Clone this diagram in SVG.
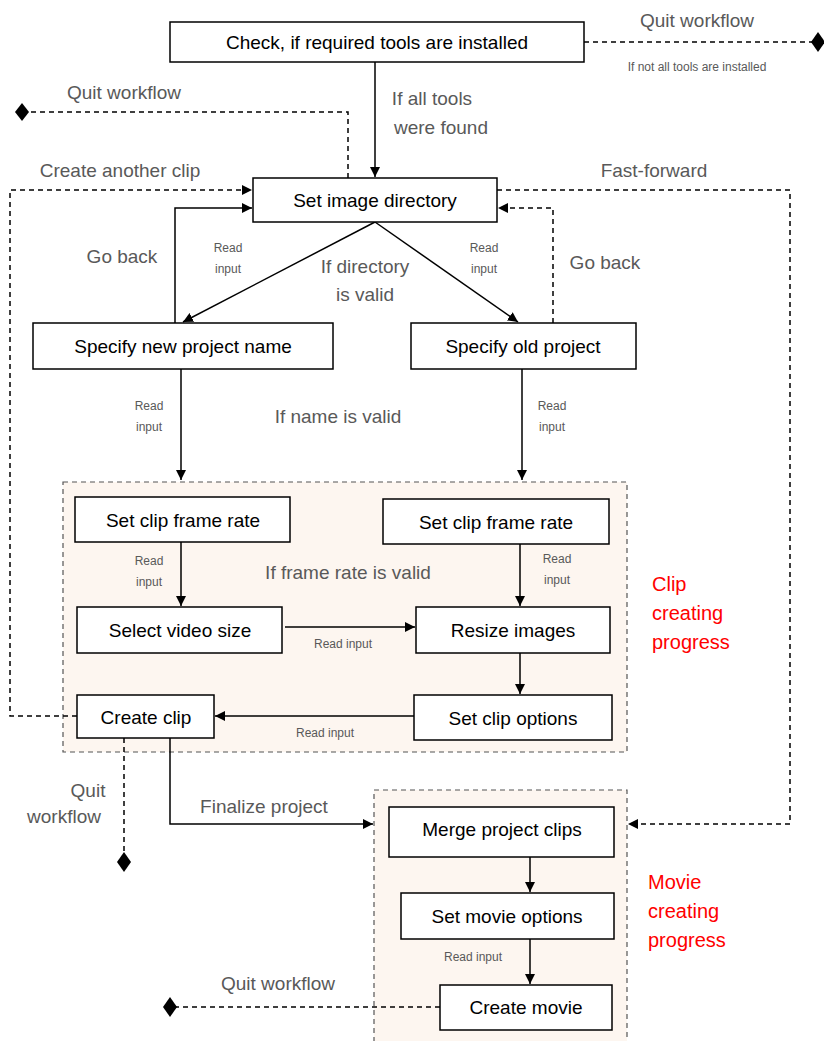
<svg xmlns="http://www.w3.org/2000/svg" width="824" height="1041" viewBox="0 0 824 1041">
<defs>
<marker id="arr" viewBox="0 0 10 10" refX="10" refY="5" markerWidth="10" markerHeight="10" markerUnits="userSpaceOnUse" orient="auto"><path d="M0,0 L10,5 L0,10 z" fill="#000"/></marker>
<style>
.box{fill:#fff;stroke:#000;stroke-width:1.5}
.grp{fill:#fdf6f0;stroke:#555;stroke-width:1.2;stroke-dasharray:5,4}
.t{font-family:"Liberation Sans",Arial,sans-serif;font-size:19px;fill:#000;text-anchor:middle;dominant-baseline:central}
.l{font-family:"Liberation Sans",Arial,sans-serif;font-size:19px;fill:#595959;text-anchor:middle;dominant-baseline:central}
.s{font-family:"Liberation Sans",Arial,sans-serif;font-size:12px;fill:#595959;text-anchor:middle;dominant-baseline:central}
.r{font-family:"Liberation Sans",Arial,sans-serif;font-size:20px;fill:#ff0000;dominant-baseline:central}
.c{fill:none;stroke:#000;stroke-width:1.5}
.d{fill:none;stroke:#000;stroke-width:1.5;stroke-dasharray:5,4}
.dm{fill:#000}
</style>
</defs>
<rect width="824" height="1041" fill="#fff"/>
<g id="clip-group"><rect class="grp" x="63" y="482" width="564" height="270"/></g>
<g id="movie-group"><rect class="grp" x="374" y="790" width="253" height="260"/></g>
<g id="connectors">
<path class="d" d="M584,42 H812"/>
<path class="dm" d="M818,32 L825,42 L818,52 L811,42 z"/>
<path class="c" d="M375,62 V177" marker-end="url(#arr)"/>
<path class="d" d="M348,178 V112 H28"/>
<path class="dm" d="M22,103 L29,112 L22,121 L15,112 z"/>
<path class="d" d="M77,716 H10 V190 H252" marker-end="url(#arr)"/>
<path class="c" d="M175,323 V208 H252" marker-end="url(#arr)"/>
<path class="c" d="M375,222 L183,322" marker-end="url(#arr)"/>
<path class="c" d="M375,222 L518,322" marker-end="url(#arr)"/>
<path class="d" d="M553,323 V208 H498" marker-end="url(#arr)"/>
<path class="d" d="M497,190 H790 V824 H628" marker-end="url(#arr)"/>
<path class="c" d="M181,369 V480" marker-end="url(#arr)"/>
<path class="c" d="M522,369 V480" marker-end="url(#arr)"/>
<path class="c" d="M181,542 V606" marker-end="url(#arr)"/>
<path class="c" d="M520,544 V606" marker-end="url(#arr)"/>
<path class="c" d="M285,627 H415" marker-end="url(#arr)"/>
<path class="c" d="M520,653 V694" marker-end="url(#arr)"/>
<path class="c" d="M414,716 H215" marker-end="url(#arr)"/>
<path class="d" d="M124,738 V855"/>
<path class="dm" d="M124,852 L131,862 L124,872 L117,862 z"/>
<path class="c" d="M170,738 V824 H373" marker-end="url(#arr)"/>
<path class="c" d="M530,857 V892" marker-end="url(#arr)"/>
<path class="c" d="M530,939 V984" marker-end="url(#arr)"/>
<path class="d" d="M440,1007 H176"/>
<path class="dm" d="M170,997 L177,1007 L170,1017 L163,1007 z"/>
</g>
<g id="labels">
<text class="l" x="697" y="20">Quit workflow</text>
<text class="s" x="697" y="67">If not all tools are installed</text>
<text class="l" x="432" y="98">If all tools</text>
<text class="l" x="441" y="127">were found</text>
<text class="l" x="124" y="92">Quit workflow</text>
<text class="l" x="120" y="170">Create another clip</text>
<text class="l" x="654" y="170">Fast-forward</text>
<text class="l" x="122" y="256">Go back</text>
<text class="l" x="605" y="262">Go back</text>
<text class="s" x="228" y="248">Read</text>
<text class="s" x="228" y="269">input</text>
<text class="s" x="484" y="248">Read</text>
<text class="s" x="484" y="269">input</text>
<text class="l" x="365" y="266">If directory</text>
<text class="l" x="365" y="294">is valid</text>
<text class="s" x="149" y="406">Read</text>
<text class="s" x="149" y="427">input</text>
<text class="s" x="552" y="406">Read</text>
<text class="s" x="552" y="427">input</text>
<text class="l" x="338" y="416">If name is valid</text>
<text class="s" x="149" y="561">Read</text>
<text class="s" x="149" y="582">input</text>
<text class="s" x="557" y="559">Read</text>
<text class="s" x="557" y="580">input</text>
<text class="l" x="348" y="572">If frame rate is valid</text>
<text class="s" x="343" y="644">Read input</text>
<text class="s" x="325" y="733">Read input</text>
<text class="r" x="652" y="584">Clip</text>
<text class="r" x="652" y="613">creating</text>
<text class="r" x="652" y="642">progress</text>
<text class="l" x="88" y="790">Quit</text>
<text class="l" x="64" y="816">workflow</text>
<text class="l" x="264" y="806">Finalize project</text>
<text class="r" x="648" y="882">Movie</text>
<text class="r" x="648" y="911">creating</text>
<text class="r" x="648" y="940">progress</text>
<text class="s" x="473" y="957">Read input</text>
<text class="l" x="278" y="983">Quit workflow</text>
</g>
<g id="check-tools"><rect class="box" x="170" y="22" width="414" height="40"/><text class="t" x="377" y="42">Check, if required tools are installed</text></g>
<g id="set-image-dir"><rect class="box" x="253" y="178" width="244" height="44"/><text class="t" x="375" y="200">Set image directory</text></g>
<g id="new-project"><rect class="box" x="33" y="323" width="300" height="46"/><text class="t" x="183" y="346">Specify new project name</text></g>
<g id="old-project"><rect class="box" x="411" y="323" width="225" height="46"/><text class="t" x="523" y="346">Specify old project</text></g>
<g id="frame-rate-left"><rect class="box" x="75" y="497" width="215" height="45"/><text class="t" x="183" y="520">Set clip frame rate</text></g>
<g id="frame-rate-right"><rect class="box" x="383" y="499" width="226" height="45"/><text class="t" x="496" y="522">Set clip frame rate</text></g>
<g id="video-size"><rect class="box" x="77" y="607" width="205" height="46"/><text class="t" x="180" y="630">Select video size</text></g>
<g id="resize-images"><rect class="box" x="416" y="607" width="194" height="46"/><text class="t" x="513" y="630">Resize images</text></g>
<g id="clip-options"><rect class="box" x="414" y="695" width="198" height="45"/><text class="t" x="513" y="718">Set clip options</text></g>
<g id="create-clip"><rect class="box" x="77" y="695" width="137" height="43"/><text class="t" x="146" y="717">Create clip</text></g>
<g id="merge-clips"><rect class="box" x="389" y="807" width="225" height="50"/><text class="t" x="502" y="829">Merge project clips</text></g>
<g id="movie-options"><rect class="box" x="401" y="893" width="213" height="46"/><text class="t" x="507" y="916">Set movie options</text></g>
<g id="create-movie"><rect class="box" x="440" y="985" width="172" height="45"/><text class="t" x="526" y="1007">Create movie</text></g>
</svg>
